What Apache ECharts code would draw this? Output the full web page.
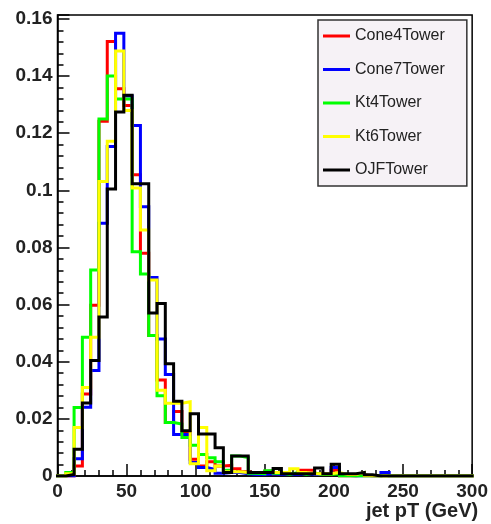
<!DOCTYPE html>
<html>
<head>
<meta charset="utf-8">
<script src="https://cdn.jsdelivr.net/npm/echarts@6/dist/echarts.min.js"></script>
<style>
html,body{margin:0;padding:0;background:#fff;}
#chart{width:491px;height:524px;}
</style>
</head>
<body>
<div id="chart"></div>
<script>
// Histogram: 50 bins of 6 GeV from 0 to 300 GeV
var binWidth = 6;
var seriesNames = ['Cone4Tower', 'Cone7Tower', 'Kt4Tower', 'Kt6Tower', 'OJFTower'];
var seriesColors = ['#ff0000', '#0000ff', '#00ff00', '#ffff00', '#000000'];

var cone4Tower = [0, 0, 0.0035, 0.0287, 0.0598, 0.1242, 0.1521, 0.1356, 0.1297, 0.1055,
  0.078, 0.0492, 0.0336, 0.0187, 0.0226, 0.0152, 0.0059, 0.0035, 0.005, 0.0035,
  0.0037, 0.0025, 0.0015, 0.001, 0.0008, 0.0017, 0.0008, 0.0005, 0.0005, 0.002,
  0.002, 0.0008, 0.0005, 0.002, 0, 0, 0.0004, 0, 0, 0,
  0, 0, 0, 0, 0, 0, 0, 0, 0, 0];
var cone7Tower = [0, 0, 0.006, 0.0241, 0.0369, 0.0885, 0.1154, 0.155, 0.133, 0.1227,
  0.0943, 0.0695, 0.048, 0.0355, 0.0145, 0.0145, 0.0047, 0.003, 0.0023, 0.001,
  0.0012, 0.0012, 0.0008, 0.0005, 0.0005, 0.0008, 0.0005, 0.0005, 0.0005, 0.0008,
  0.0005, 0.0005, 0.0005, 0.003, 0.0003, 0, 0, 0, 0, 0.0012,
  0, 0, 0, 0, 0, 0, 0, 0, 0, 0];
var kt4Tower = [0, 0.0012, 0.024, 0.0486, 0.0721, 0.125, 0.140, 0.132, 0.132, 0.0785,
  0.0707, 0.0492, 0.0281, 0.0187, 0.0182, 0.0135, 0.0108, 0.0075, 0.0064, 0.005,
  0.002, 0.007, 0.0065, 0.001, 0.0008, 0.0018, 0.001, 0.0005, 0.0012, 0.0005,
  0.001, 0.0005, 0.0005, 0.0008, 0, 0, 0, 0, 0, 0,
  0, 0, 0, 0, 0, 0, 0, 0, 0, 0];
var kt6Tower = [0, 0.0008, 0.017, 0.031, 0.0486, 0.1031, 0.1172, 0.1488, 0.128, 0.1008,
  0.0861, 0.0686, 0.030, 0.0255, 0.0255, 0.026, 0.0043, 0.017, 0.0018, 0.0035,
  0.0015, 0.0015, 0.0012, 0.0012, 0.0012, 0.0012, 0.0012, 0.0012, 0.0025, 0.0012,
  0.0008, 0.0008, 0.0008, 0.0012, 0.0005, 0.0005, 0.0012, 0, 0, 0,
  0, 0, 0, 0, 0, 0, 0, 0, 0, 0];
var ojfTower = [0, 0.0005, 0.0094, 0.0256, 0.0404, 0.0557, 0.1005, 0.1274, 0.1333, 0.1023,
  0.1023, 0.0571, 0.0604, 0.0393, 0.0262, 0.0158, 0.0218, 0.0147, 0.0147, 0.0099,
  0.0012, 0.007, 0.007, 0.0012, 0.0012, 0.0012, 0.0026, 0.0008, 0.0008, 0.0008,
  0.0008, 0.0028, 0.0008, 0.0041, 0.0008, 0.0008, 0.0012, 0.0004, 0, 0,
  0, 0, 0, 0, 0, 0, 0, 0, 0, 0];

var xTicks = [0, 50, 100, 150, 200, 250, 300];
var yTicks = [0, 0.02, 0.04, 0.06, 0.08, 0.1, 0.12, 0.14, 0.16];

var allValues = [cone4Tower, cone7Tower, kt4Tower, kt6Tower, ojfTower];

function toSteps(vals) {
  var pts = [];
  for (var i = 0; i < vals.length; i++) pts.push([i * binWidth, vals[i]]);
  pts.push([vals.length * binWidth, vals[vals.length - 1]]);
  return pts;
}

var font = "'Liberation Sans', Arial, Helvetica, sans-serif";
var chart = echarts.init(document.getElementById('chart'), null, {renderer: 'canvas'});

var series = seriesNames.map(function (name, i) {
  return {
    name: name,
    type: 'line',
    step: 'end',
    data: toSteps(allValues[i]),
    showSymbol: false,
    symbol: 'none',
    animation: false,
    lineStyle: {color: seriesColors[i], width: 3, cap: 'square', join: 'miter'},
    itemStyle: {color: seriesColors[i]},
    z: 2 + i
  };
});

chart.setOption({
  animation: false,
  backgroundColor: '#ffffff',
  grid: {
    left: 57.5, right: 17, top: 15, bottom: 48,
    show: true, borderColor: '#000', borderWidth: 1.5, backgroundColor: '#fff'
  },
  legend: {
    orient: 'vertical',
    left: 318, top: 20,
    padding: [8, 22, 8, 5],
    itemGap: 17.5,
    itemWidth: 27,
    itemHeight: 3,
    itemTextGap: 5,
    icon: 'rect',
    backgroundColor: '#f6f2f6',
    borderColor: '#333',
    borderWidth: 1.5,
    textStyle: {fontFamily: font, fontSize: 16, color: '#222', lineHeight: 16},
    data: seriesNames
  },
  xAxis: {
    type: 'value',
    min: xTicks[0], max: xTicks[xTicks.length - 1], interval: 50,
    name: 'jet pT (GeV)',
    nameLocation: 'end',
    nameGap: 6,
    nameTextStyle: {fontFamily: font, fontSize: 20, fontWeight: 'bold', color: '#222',
      align: 'right', verticalAlign: 'top', padding: [25, 0, 0, 0]},
    axisLine: {show: true, onZero: false, lineStyle: {color: '#000', width: 1.5}},
    axisTick: {show: true, inside: true, length: 12, lineStyle: {color: '#000', width: 1.5}},
    minorTick: {show: true, splitNumber: 5, length: 6, lineStyle: {color: '#000', width: 1.5}},
    splitLine: {show: false},
    axisLabel: {fontFamily: font, fontSize: 19, fontWeight: 'bold', color: '#222', margin: 6}
  },
  yAxis: {
    type: 'value',
    min: 0, max: 0.1614, interval: 0.02,
    axisLine: {show: true, onZero: false, lineStyle: {color: '#000', width: 1.5}},
    axisTick: {show: true, inside: true, length: 12, lineStyle: {color: '#000', width: 1.5}},
    minorTick: {show: true, splitNumber: 5, length: 6, lineStyle: {color: '#000', width: 1.5}},
    splitLine: {show: false},
    axisLabel: {
      fontFamily: font, fontSize: 19, fontWeight: 'bold', color: '#222', margin: 5,
      showMaxLabel: false,
      formatter: function (v) {
        var r = Math.round(v * 100) / 100;
        if (yTicks.indexOf(r) < 0 || Math.abs(r - v) > 1e-6) return '';
        return String(r);
      }
    }
  },
  series: series
});
</script>
</body>
</html>
